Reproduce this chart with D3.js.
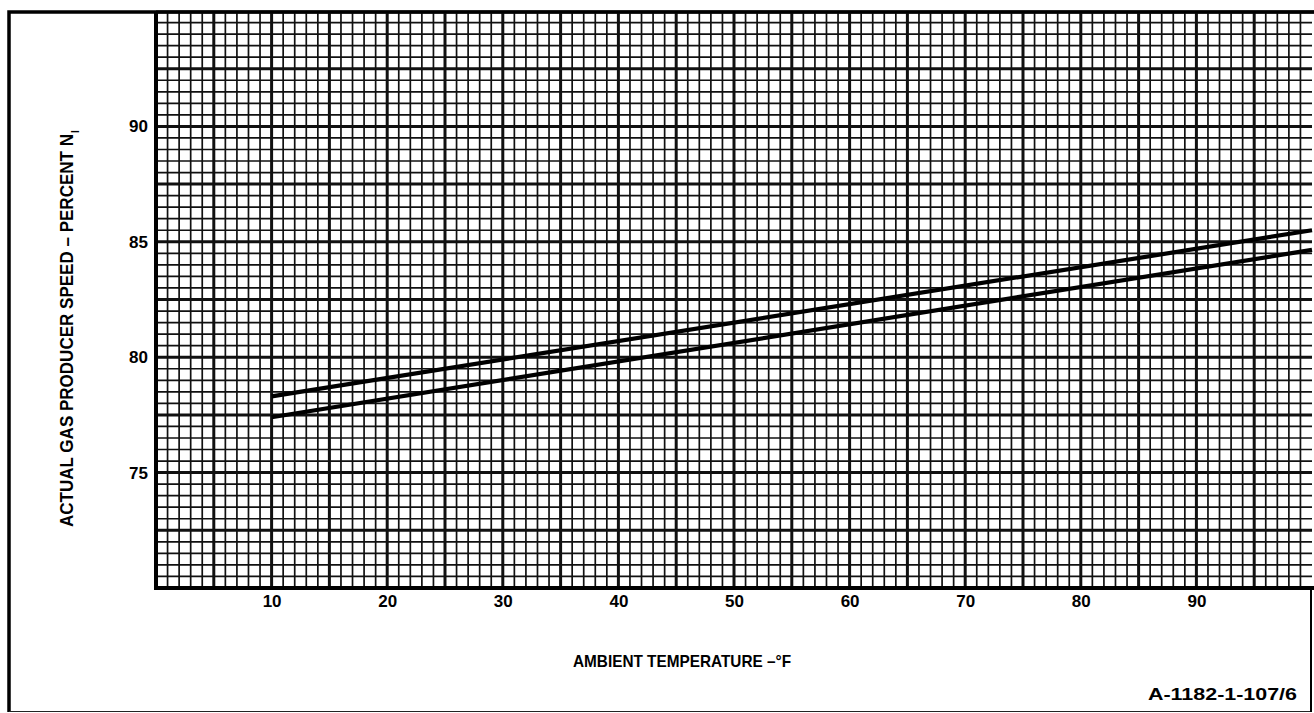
<!DOCTYPE html>
<html>
<head>
<meta charset="utf-8">
<script src="https://cdn.jsdelivr.net/npm/d3@7"></script>
<style>
  html, body { margin: 0; padding: 0; background: #fff; }
  svg { display: block; }
  text { font-family: "Liberation Sans", Arial, Helvetica, sans-serif; font-weight: bold; fill: #000; }
</style>
</head>
<body>
<svg id="chart" width="1314" height="713"></svg>
<script>
// Ambient temperature (°F) at the ends of each curve
const temperature = [10, 100];
// Gas producer speed, percent N1 — upper and lower limit lines
const upperSpeed = [78.3, 85.5];
const lowerSpeed = [77.4, 84.65];
// Axis tick labels
const xTicks = [10, 20, 30, 40, 50, 60, 70, 80, 90];
const yTicks = [75, 80, 85, 90];

const svg = d3.select("#chart");

const plot = { left: 156, right: 1312, top: 11, bottom: 588 };
const x = d3.scaleLinear().domain([0, 100]).range([plot.left, plot.right]);
const y = d3.scaleLinear().domain([70, 95]).range([plot.bottom, plot.top]);

// Outer sheet frame
svg.append("path")
  .attr("d", `M9,712 L9,12 L1314,12`)
  .attr("fill", "none").attr("stroke", "#000").attr("stroke-width", 3.5);
svg.append("line").attr("x1", 9).attr("x2", 1311).attr("y1", 711.5).attr("y2", 711.5)
  .attr("stroke", "#222").attr("stroke-width", 1.2);
svg.append("line").attr("x1", 1311).attr("x2", 1311).attr("y1", plot.bottom).attr("y2", 712)
  .attr("stroke", "#000").attr("stroke-width", 2);

// Graph-paper grid: fine lines every 1 °F / 0.5 %, heavy every 5 °F / 2.5 %
const grid = svg.append("g");
const xMinor = d3.range(1, 100, 1);
const yMinor = d3.range(70.5, 95, 0.5);
const isHeavyY = d => Math.abs((d - 70) / 2.5 - Math.round((d - 70) / 2.5)) < 1e-6;
grid.selectAll("line.vx").data(xMinor).join("line")
  .attr("x1", d => x(d)).attr("x2", d => x(d))
  .attr("y1", plot.top).attr("y2", plot.bottom)
  .attr("stroke", "#111")
  .attr("stroke-width", d => d % 5 === 0 ? 3 : 1.7);
grid.selectAll("line.hy").data(yMinor).join("line")
  .attr("x1", plot.left).attr("x2", plot.right)
  .attr("y1", d => y(d)).attr("y2", d => y(d))
  .attr("stroke", "#111")
  .attr("stroke-width", d => isHeavyY(d) ? 3 : 1.7);

// Heavy plot borders (left and bottom axes, top edge)
svg.append("path")
  .attr("d", `M${plot.left},${plot.top} L${plot.left},${plot.bottom} L${plot.right + 2},${plot.bottom}`)
  .attr("fill", "none").attr("stroke", "#000").attr("stroke-width", 4);
svg.append("line").attr("x1", plot.left).attr("x2", 1314).attr("y1", plot.top + 1).attr("y2", plot.top + 1)
  .attr("stroke", "#000").attr("stroke-width", 3);

// Y axis labels
const yAxis = d3.axisLeft(y).tickValues(yTicks).tickSize(0).tickPadding(8);
const gy = svg.append("g").attr("transform", `translate(${plot.left},0)`).call(yAxis);
gy.select(".domain").remove();
gy.selectAll("text")
  .style("font-family", "'Liberation Sans', Arial, sans-serif")
  .style("font-weight", "bold")
  .attr("font-size", 17).attr("fill", "#000");

// X axis labels
const xAxis = d3.axisBottom(x).tickValues(xTicks).tickSize(0).tickPadding(7);
const gx = svg.append("g").attr("transform", `translate(0,${plot.bottom})`).call(xAxis);
gx.select(".domain").remove();
gx.selectAll("text")
  .style("font-family", "'Liberation Sans', Arial, sans-serif")
  .style("font-weight", "bold")
  .attr("font-size", 17).attr("fill", "#000");

// Limit lines
const line = d3.line().x(d => x(d[0])).y(d => y(d[1]));
[upperSpeed, lowerSpeed].forEach(series => {
  svg.append("path")
    .datum(temperature.map((t, i) => [t, series[i]]))
    .attr("d", line)
    .attr("fill", "none").attr("stroke", "#000").attr("stroke-width", 4.2)
    .attr("stroke-linecap", "butt");
});

// Axis titles
const yTitle = svg.append("g").attr("transform", "rotate(-90)");
yTitle.append("text")
  .attr("x", -527).attr("y", 73)
  .attr("font-size", 18)
  .attr("textLength", 393).attr("lengthAdjust", "spacingAndGlyphs")
  .text("ACTUAL GAS PRODUCER SPEED – PERCENT N");
yTitle.append("text")
  .attr("x", -133).attr("y", 79)
  .attr("font-size", 10)
  .text("I");

svg.append("text")
  .attr("x", 573).attr("y", 667)
  .attr("font-size", 17)
  .attr("textLength", 218).attr("lengthAdjust", "spacingAndGlyphs")
  .text("AMBIENT TEMPERATURE –°F");

svg.append("text")
  .attr("x", 1148).attr("y", 700)
  .attr("font-size", 17)
  .attr("textLength", 149).attr("lengthAdjust", "spacingAndGlyphs")
  .text("A-1182-1-107/6");
</script>
</body>
</html>
